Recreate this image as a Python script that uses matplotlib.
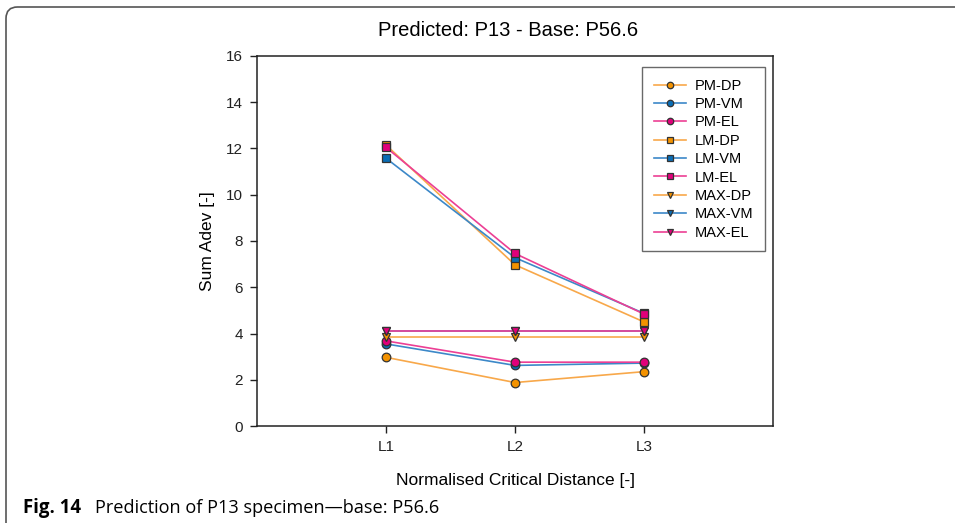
import matplotlib
matplotlib.use("Agg")
import matplotlib.pyplot as plt
from matplotlib.patches import FancyBboxPatch

plt.rcParams['font.family'] = ['Liberation Sans', 'DejaVu Sans']

categories = ["L1", "L2", "L3"]
series_names = ["PM-DP", "PM-VM", "PM-EL",
                "LM-DP", "LM-VM", "LM-EL",
                "MAX-DP", "MAX-VM", "MAX-EL"]
pm_dp = [2.97, 1.88, 2.35]
pm_vm = [3.55, 2.62, 2.72]
pm_el = [3.68, 2.76, 2.76]
lm_dp = [12.15, 6.97, 4.50]
lm_vm = [11.58, 7.28, 4.87]
lm_el = [12.05, 7.46, 4.84]
max_dp = [3.86, 3.86, 3.86]
max_vm = [4.10, 4.10, 4.10]
max_el = [4.12, 4.12, 4.12]
values = [pm_dp, pm_vm, pm_el, lm_dp, lm_vm, lm_el, max_dp, max_vm, max_el]

line_cols = {"DP": "#F8A84A", "VM": "#3C88C8", "EL": "#EC3F94"}
fill_cols = {"DP": "#F39200", "VM": "#0A6DB5", "EL": "#E0007A"}
markers = {"PM": "o", "LM": "s", "MAX": "v"}
msizes = {"PM": 6.2, "LM": 5.6, "MAX": 6.2}

fig = plt.figure(figsize=(9.55, 5.23), dpi=100)
ax = fig.add_axes([257 / 955, 1 - 426 / 523, (773 - 257) / 955, (426 - 56) / 523])

xpos = [1, 2, 3]
handles = []
for name, vals in zip(series_names, values):
    method, crit = name.split("-")
    h, = ax.plot(xpos, vals, color=line_cols[crit], lw=1.2,
                 marker=markers[method], markersize=msizes[method],
                 markerfacecolor=fill_cols[crit], markeredgecolor="#333333",
                 markeredgewidth=0.9, label=name)
    handles.append(h)

ax.set_xlim(0, 4)
ax.set_ylim(0, 16)
ax.set_xticks(xpos)
ax.set_xticklabels(categories)
ax.set_yticks(range(0, 17, 2))
ax.tick_params(direction="out", length=5, width=1, labelsize=11, colors="#222222", pad=5)
for sp in ax.spines.values():
    sp.set_linewidth(1.1)
    sp.set_color("#222222")

ax.set_xlabel("Normalised Critical Distance [-]", fontsize=12.5, labelpad=14)
ax.set_ylabel("Sum Adev [-]", fontsize=12.5, labelpad=8)
fig.text(508 / 955, 1 - 30 / 523, "Predicted: P13 - Base: P56.6",
         ha="center", va="center", fontsize=14.5)

leg = ax.legend(handles=handles, loc="upper left",
                bbox_to_anchor=((642 - 257) / 516, (426 - 67) / 370),
                fontsize=10.5, frameon=True, fancybox=False, borderpad=0.8,
                labelspacing=0.3, handlelength=2.2, handletextpad=0.6,
                borderaxespad=0, markerscale=0.75)
leg.get_frame().set_edgecolor("#444444")
leg.get_frame().set_linewidth(1.0)

# outer panel border with rounded corner
border = FancyBboxPatch((6 / 955, -0.2), 1.2, 1 - 7 / 523 + 0.2,
                        boxstyle="round,pad=0,rounding_size=0.012",
                        transform=fig.transFigure, fill=False,
                        edgecolor="#555555", linewidth=1.2, clip_on=False,
                        mutation_aspect=955 / 523)
fig.patches.append(border)

cap_y = 1 - 508 / 523
fig.text(23 / 955, cap_y, "Fig. 14", fontsize=13.4, fontweight="bold",
         family=["Open Sans", "DejaVu Sans"], va="center", ha="left")
fig.text(95 / 955, cap_y, "Prediction of P13 specimen\u2014base: P56.6", fontsize=13.1,
         family=["Open Sans", "DejaVu Sans"], va="center", ha="left")

fig.savefig("out.png", dpi=100)
